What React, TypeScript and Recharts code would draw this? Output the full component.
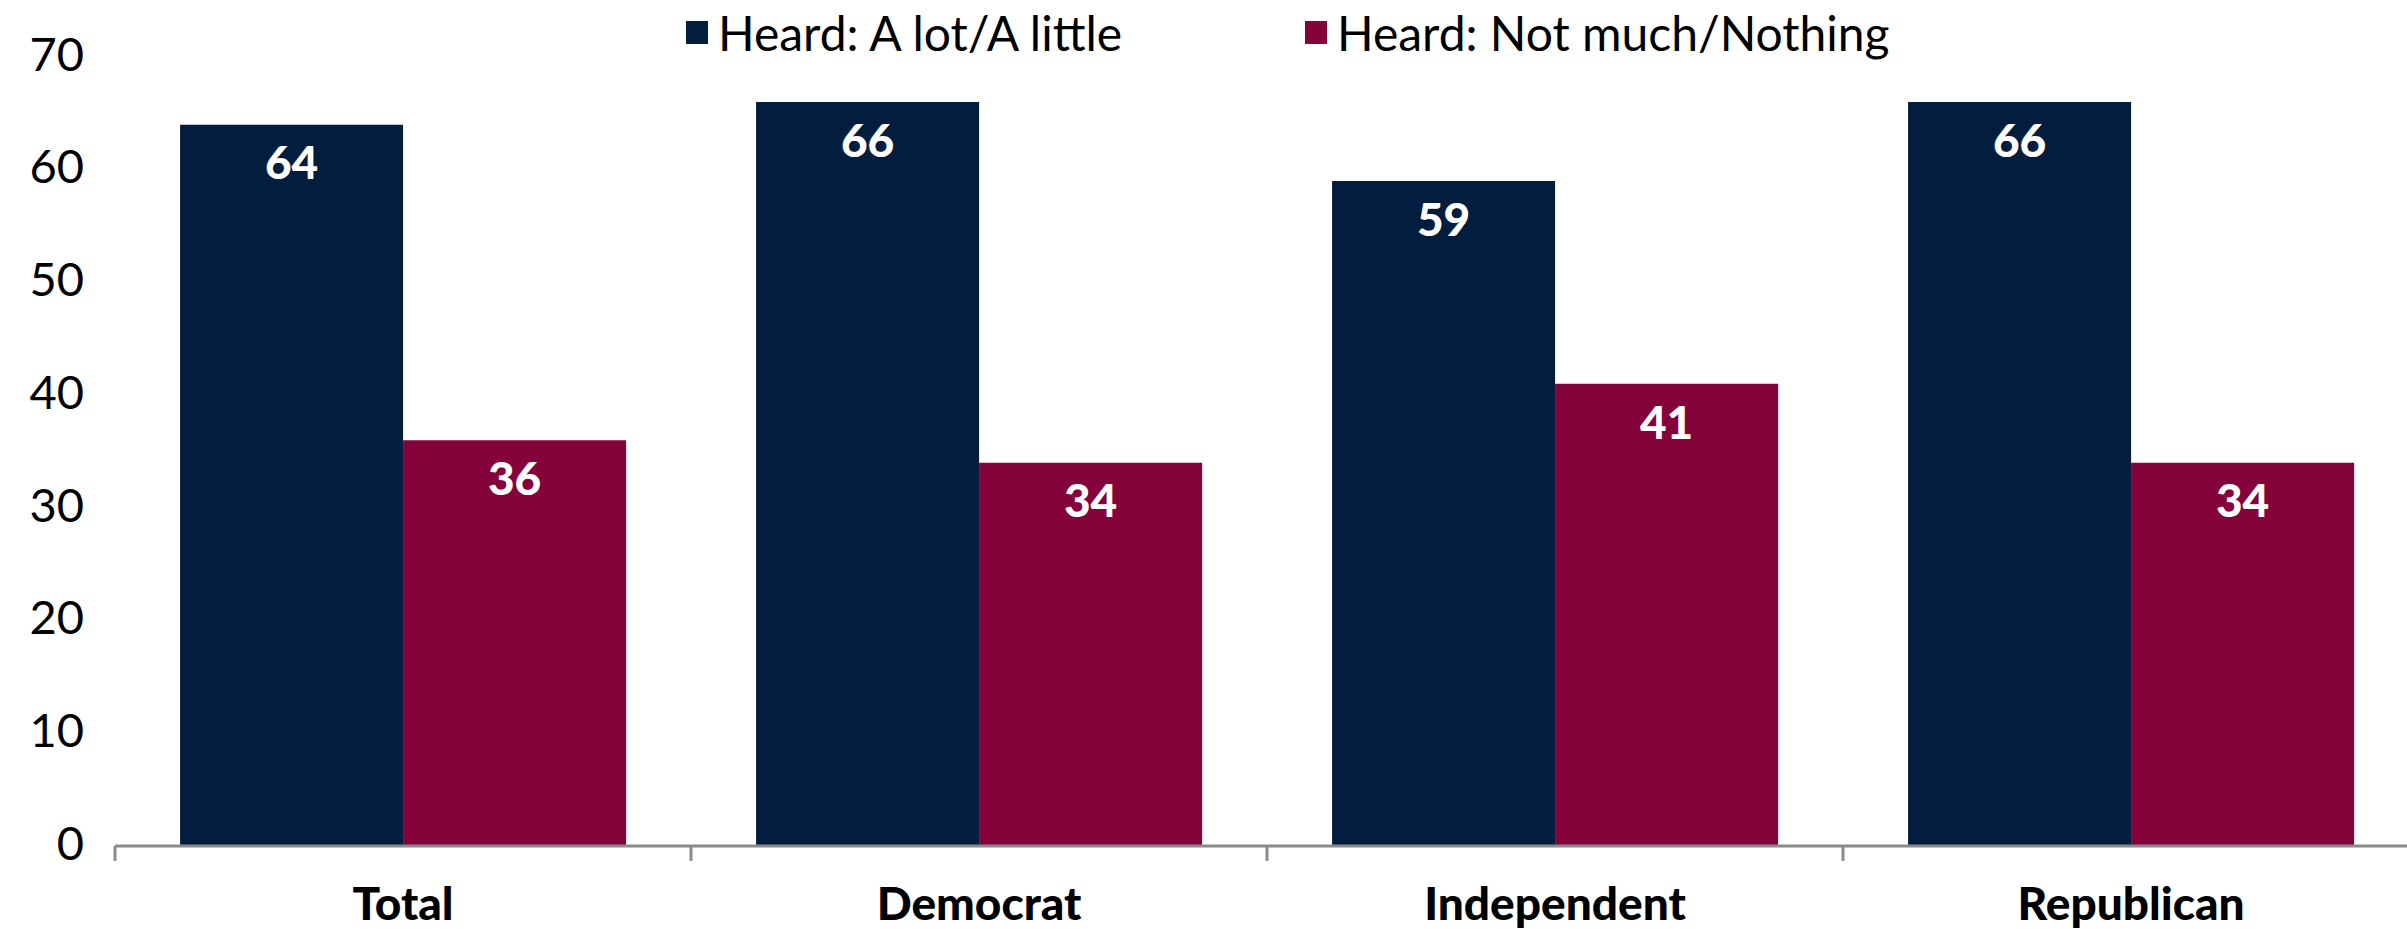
import { BarChart, Bar, XAxis, YAxis, Legend, LabelList } from 'recharts';

const categories = ['Total', 'Democrat', 'Independent', 'Republican'];
const heardALot = [64, 66, 59, 66];
const heardNotMuch = [36, 34, 41, 34];
const yTicks = [0, 10, 20, 30, 40, 50, 60, 70];

const SERIES = [
  { key: 'heardALot', name: 'Heard: A lot/A little', color: '#021D3D' },
  { key: 'heardNotMuch', name: 'Heard: Not much/Nothing', color: '#84033A' },
];

const data = categories.map((name, i) => ({
  name,
  heardALot: heardALot[i],
  heardNotMuch: heardNotMuch[i],
}));

const FONT = 'Lato, "Open Sans", sans-serif';
const BAND = 576; // width of one category band, px

const CategoryTick = (props: any) => {
  const { x, y, payload, index } = props;
  const left = x - BAND / 2;
  const top = y - 8; // tick y comes already shifted by tickSize + tickMargin
  return (
    <g>
      <line x1={left} x2={left} y1={top} y2={top + 15} stroke="#8a8a8a" strokeWidth={3} />
      {index === categories.length - 1 && (
        <line x1={x + BAND / 2} x2={x + BAND / 2} y1={top} y2={top + 15} stroke="#8a8a8a" strokeWidth={3} />
      )}
      <text
        x={x}
        y={top + 74}
        textAnchor="middle"
        fontFamily={FONT}
        fontWeight={900}
        fontSize={46}
        fill="#000"
      >
        {payload.value}
      </text>
    </g>
  );
};

const LegendContent = () => (
  <div style={{ height: 57, position: 'relative', fontFamily: FONT, fontSize: 48, color: '#000' }}>
    <div style={{ position: 'absolute', left: 686, top: 4, display: 'flex', alignItems: 'center', whiteSpace: 'nowrap' }}>
      <span style={{ width: 22, height: 23, background: SERIES[0].color, marginRight: 10, display: 'inline-block' }} />
      {SERIES[0].name}
    </div>
    <div style={{ position: 'absolute', left: 1305, top: 4, display: 'flex', alignItems: 'center', whiteSpace: 'nowrap' }}>
      <span style={{ width: 22, height: 23, background: SERIES[1].color, marginRight: 10, display: 'inline-block' }} />
      {SERIES[1].name}
    </div>
  </div>
);

export default function App() {
  if (typeof document !== 'undefined') document.body.style.margin = '0';
  return (
    <div style={{ width: 2407, height: 929, overflow: 'hidden', background: '#fff' }}>
      <BarChart
        width={2419}
        height={929}
        data={data}
        margin={{ top: 0, right: 0, left: 0, bottom: 0 }}
        barCategoryGap="11.3%"
        barGap={0}
      >
        <Legend
          verticalAlign="top"
          align="left"
          height={57}
          content={<LegendContent />}
          wrapperStyle={{ top: 0, left: 0, width: 2407 }}
        />
        <XAxis
          dataKey="name"
          height={83}
          axisLine={{ stroke: '#8a8a8a', strokeWidth: 3 }}
          tickLine={false}
          tickSize={6}
          tickMargin={2}
          tick={<CategoryTick />}
          interval={0}
        />
        <YAxis
          width={115}
          domain={[0, 70]}
          ticks={yTicks}
          axisLine={false}
          tickLine={false}
          tickSize={0}
          tickMargin={31}
          tick={{ fontFamily: FONT, fontSize: 47, fill: '#000', dy: -3 }}
        />
        {SERIES.map((s) => (
          <Bar key={s.key} dataKey={s.key} name={s.name} fill={s.color} isAnimationActive={false}>
            <LabelList
              dataKey={s.key}
              position="insideTop"
              offset={22}
              fill="#fff"
              fontFamily={FONT}
              fontWeight={900}
              fontSize={46}
            />
          </Bar>
        ))}
      </BarChart>
    </div>
  );
}
